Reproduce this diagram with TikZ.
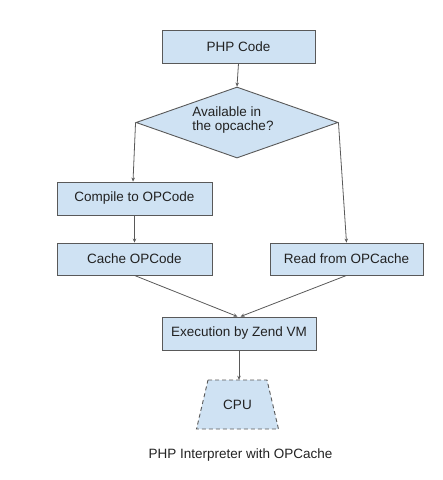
\documentclass[tikz,border=0pt]{standalone}
\usepackage{fontspec}
\setmainfont{Liberation Sans}
\usetikzlibrary{shapes.geometric,arrows.meta,calc}
\definecolor{boxfill}{HTML}{CFE2F3}
\definecolor{boxline}{HTML}{595959}
\definecolor{txt}{HTML}{222222}
\tikzset{
  box/.style={draw=boxline, fill=boxfill, line width=0.9pt, inner sep=0pt,
    font=\fontsize{13.5}{16}\selectfont, text=txt},
  conn/.style={draw=boxline, line width=0.8pt, -{Stealth[length=4pt,width=3.5pt]}},
}
\begin{document}
\begin{tikzpicture}[x=1pt,y=-1pt]
\useasboundingbox (0,0) rectangle (443,480);
\node[box, minimum width=153, minimum height=33] (php) at (238.5,46.5) {PHP Code};
\node[box, shape=diamond, minimum width=202, minimum height=71, aspect=2.8] (dia) at (237,122.5) {};
\node[font=\fontsize{13.5}{14}\selectfont, text=txt, align=left, inner sep=0pt] (diat) at (233,120.5) {Available in\\the opcache?};
\node[box, minimum width=155, minimum height=33] (comp) at (134.5,198.5) {Compile to OPCode};
\node[box, minimum width=155, minimum height=32] (cache) at (134.5,259) {Cache OPCode};
\node[box, minimum width=153, minimum height=32] (read) at (346.5,259) {Read from OPCache};
\node[box, minimum width=154, minimum height=33] (exec) at (239,333.5) {Execution by Zend VM};
\coordinate (tl) at (208,380);
\coordinate (tr) at (267,380);
\coordinate (br) at (278.5,429);
\coordinate (bl) at (196.5,429);
\draw[boxline, fill=boxfill, line width=0.9pt, dash pattern=on 4pt off 3pt] (tl) -- (tr) -- (br) -- (bl) -- cycle;
\node[inner sep=0pt, minimum width=59, minimum height=49, font=\fontsize{13.5}{16}\selectfont, text=txt] (cpu) at (237.5,404.5) {CPU};
\node[font=\fontsize{13.5}{16}\selectfont, text=txt, inner sep=0pt] (cap) at (240.5,455) {PHP Interpreter with OPCache};
\draw[conn] (php.south) -- (dia.north);
\draw[conn] (dia.west) -- ([xshift=-1.5pt]comp.north);
\draw[conn] (dia.east) -- (read.north);
\draw[conn] (comp.south) -- (cache.south |- cache.north);
\draw[conn] (cache.south) -- ([xshift=-1.5pt]exec.north);
\draw[conn] (read.south) -- ([xshift=1.5pt]exec.north);
\draw[conn] (exec.south) -- (cpu.north -| exec.south);
\end{tikzpicture}
\end{document}
